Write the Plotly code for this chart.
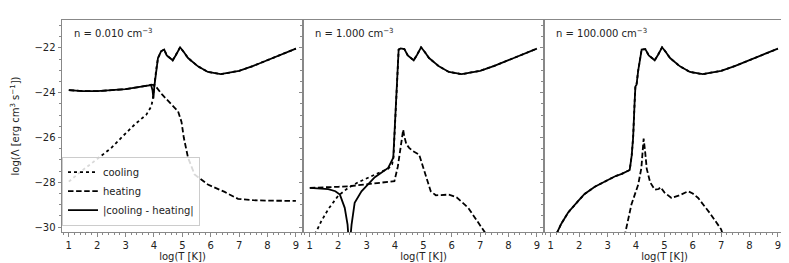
import plotly.graph_objects as go
from plotly.subplots import make_subplots

# ---------------- data (log T, log Lambda) ----------------
densities = ["0.010", "1.000", "100.000"]
x_ticks = [1, 2, 3, 4, 5, 6, 7, 8, 9]
y_ticks = [-30, -28, -26, -24, -22]

# shared high-temperature part of the cooling curve
hi_x = [4.45, 4.66, 4.78, 4.92, 5.05, 5.2, 5.55, 5.9, 6.35, 7.0, 7.5, 8.0, 8.5, 9.0]
hi_y = [-22.33, -22.55, -22.3, -21.97, -22.18, -22.45, -22.82, -23.07, -23.17, -23.02, -22.8, -22.55, -22.3, -22.03]

# panel 1 : n = 0.01
p1_net_x = [1.0, 1.5, 2.0, 2.5, 3.0, 3.5, 3.8, 3.9, 3.95, 3.98, 4.01, 4.08, 4.14, 4.25, 4.36]
p1_net_y = [-23.88, -23.93, -23.93, -23.9, -23.84, -23.74, -23.67, -23.66, -23.9, -24.25, -23.75, -22.9, -22.45, -22.15, -22.07]
p1_cool_x = [1.0, 1.44, 1.97, 2.5, 2.91, 3.32, 3.73, 3.91, 3.96, 3.99, 4.04, 4.08, 4.14, 4.25, 4.36]
p1_cool_y = [-27.97, -27.5, -26.99, -26.46, -25.93, -25.42, -24.98, -24.6, -24.25, -23.85, -23.4, -22.95, -22.47, -22.15, -22.07]
p1_heat_x = [1.0, 1.5, 2.0, 2.5, 3.0, 3.5, 3.8, 3.9, 4.0, 4.08, 4.3, 4.61, 4.85, 4.97, 5.05, 5.2, 5.43, 5.9, 6.49, 6.96, 7.5, 8.0, 9.0]
p1_heat_y = [-23.88, -23.93, -23.93, -23.9, -23.84, -23.74, -23.66, -23.64, -23.66, -23.74, -24.1, -24.53, -24.83, -25.3, -26.0, -26.9, -27.65, -28.1, -28.43, -28.74, -28.8, -28.82, -28.83]

# panel 2 : n = 1
p2_net_x = [1.0, 1.3, 1.65, 1.9, 2.06, 2.23, 2.33, 2.37, 2.39, 2.42, 2.47, 2.58, 2.82, 3.29, 3.76, 3.94, 3.98, 4.05, 4.13, 4.2, 4.33]
p2_net_y = [-28.25, -28.26, -28.3, -28.4, -28.55, -29.14, -29.89, -30.6, -32.0, -30.6, -29.9, -28.92, -28.4, -27.77, -27.36, -26.9, -26.0, -24.0, -22.07, -22.02, -22.05]
p2_cool_x = [1.15, 1.22, 1.4, 1.65, 2.0, 2.35, 2.7, 3.05, 3.4, 3.76, 3.9, 3.95, 3.98, 4.05, 4.13, 4.2, 4.33]
p2_cool_y = [-30.6, -30.22, -29.75, -29.2, -28.6, -28.25, -28.0, -27.8, -27.6, -27.39, -27.2, -26.85, -26.0, -24.0, -22.07, -22.02, -22.05]
p2_heat_x = [1.0, 1.5, 2.0, 2.35, 3.0, 3.5, 3.76, 3.98, 4.1, 4.23, 4.29, 4.32, 4.4, 4.5, 4.62, 4.85, 5.08, 5.26, 5.44, 5.9, 6.17, 6.58, 7.16, 7.3]
p2_heat_y = [-28.25, -28.24, -28.2, -28.18, -28.1, -28.03, -28.0, -27.95, -27.3, -26.0, -25.65, -25.9, -26.3, -26.46, -26.6, -26.76, -27.65, -28.4, -28.58, -28.55, -28.67, -29.14, -30.22, -30.5]

# panel 3 : n = 100
p3_net_x = [1.15, 1.23, 1.37, 1.61, 1.96, 2.19, 2.55, 3.02, 3.25, 3.5, 3.72, 3.78, 3.85, 3.9, 3.95, 3.98, 4.02, 4.08, 4.2, 4.33]
p3_net_y = [-30.8, -30.22, -29.85, -29.35, -28.84, -28.52, -28.2, -27.88, -27.74, -27.62, -27.5, -27.45, -26.8, -26.0, -24.5, -23.72, -23.64, -23.0, -22.07, -22.05]
p3_cool_x = [1.15, 1.23, 1.37, 1.61, 1.96, 2.19, 2.55, 3.02, 3.25, 3.5, 3.72, 3.78, 3.85, 3.9, 3.95, 3.98, 4.02, 4.08, 4.2, 4.33]
p3_cool_y = [-30.8, -30.22, -29.85, -29.35, -28.84, -28.52, -28.2, -27.88, -27.74, -27.62, -27.5, -27.45, -26.8, -26.0, -24.5, -23.72, -23.64, -23.0, -22.07, -22.05]
p3_heat_x = [3.55, 3.63, 3.84, 4.08, 4.19, 4.23, 4.27, 4.32, 4.38, 4.5, 4.66, 4.8, 4.87, 5.0, 5.25, 5.5, 5.84, 6.0, 6.19, 6.6, 7.0, 7.1]
p3_heat_y = [-30.8, -30.22, -28.99, -28.1, -27.36, -26.6, -26.05, -26.6, -27.4, -28.0, -28.33, -28.3, -28.22, -28.45, -28.7, -28.6, -28.4, -28.5, -28.7, -29.37, -30.1, -30.5]

panels = [
    (p1_cool_x + hi_x, p1_cool_y + hi_y, p1_heat_x, p1_heat_y, p1_net_x + hi_x, p1_net_y + hi_y),
    (p2_cool_x + hi_x, p2_cool_y + hi_y, p2_heat_x, p2_heat_y, p2_net_x + hi_x, p2_net_y + hi_y),
    (p3_cool_x + hi_x, p3_cool_y + hi_y, p3_heat_x, p3_heat_y, p3_net_x + hi_x, p3_net_y + hi_y),
]

# ---------------- figure ----------------
fig = make_subplots(rows=1, cols=3, shared_yaxes=True, horizontal_spacing=0)

LW = 1.8
for i, (cx, cy, hx, hy, nx, ny) in enumerate(panels):
    col = i + 1
    show = i == 0
    fig.add_trace(go.Scatter(x=cx, y=cy, mode="lines", name="cooling", showlegend=show,
                             line=dict(color="black", width=LW, dash="dot")), row=1, col=col)
    fig.add_trace(go.Scatter(x=hx, y=hy, mode="lines", name="heating", showlegend=show,
                             line=dict(color="black", width=LW, dash="5.5px,2.6px")), row=1, col=col)
    fig.add_trace(go.Scatter(x=nx, y=ny, mode="lines", name="|cooling - heating|", showlegend=show,
                             line=dict(color="black", width=LW)), row=1, col=col)
    fig.add_annotation(xref=f"x{'' if col == 1 else col} domain", yref="y domain",
                       x=0.042, y=0.94, xanchor="left", yanchor="middle", showarrow=False,
                       text=f"n = {densities[i]} cm<sup>\u22123</sup>",
                       font=dict(size=10, color="#222"))

axis_line = "#888"
for col in (1, 2, 3):
    fig.update_xaxes(range=[0.76, 9.25], tickvals=x_ticks, ticks="outside", ticklen=3.5,
                     tickcolor=axis_line, showline=True, linecolor=axis_line, linewidth=1,
                     mirror=True, showgrid=False, zeroline=False, automargin=False,
                     minor=dict(dtick=0.2, ticks="outside", ticklen=2, tickcolor=axis_line),
                     title=dict(text="log(T [K])", standoff=2, font=dict(size=10, color="#222")),
                     tickfont=dict(size=10, color="#222"), row=1, col=col)
    fig.update_yaxes(range=[-30.22, -20.75], tickvals=y_ticks, ticks="outside", ticklen=3.5,
                     tickcolor=axis_line, showline=True, linecolor=axis_line, linewidth=1,
                     mirror=True, showgrid=False, zeroline=False, automargin=False,
                     minor=dict(dtick=0.5, ticks="outside", ticklen=2, tickcolor=axis_line),
                     tickfont=dict(size=10, color="#222"), row=1, col=col)

fig.update_yaxes(title=dict(text="log(\u039b [erg cm<sup>3</sup> s<sup>\u22121</sup>])",
                            standoff=12, font=dict(size=10, color="#222")), row=1, col=1)

fig.update_layout(
    width=789, height=263,
    margin=dict(l=54, r=12, t=12, b=39),
    paper_bgcolor="white", plot_bgcolor="white",
    font=dict(family="DejaVu Sans", size=10, color="#222"),
    legend=dict(x=0.0, y=0.03, xanchor="left", yanchor="bottom",
                bgcolor="rgba(255,255,255,0.85)", bordercolor="#cccccc", borderwidth=1,
                font=dict(size=10, color="#222"), tracegroupgap=0, itemwidth=30),
)

fig.write_html("out.html")
